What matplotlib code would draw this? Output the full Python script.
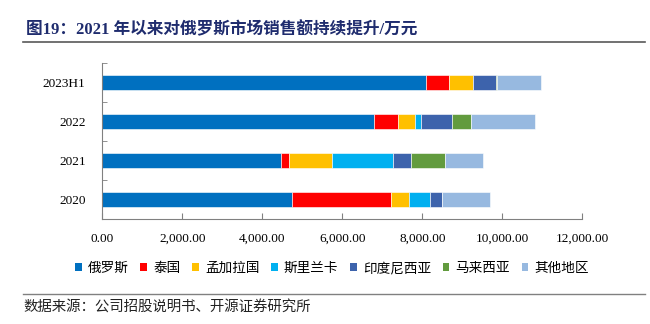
import matplotlib
matplotlib.use("Agg")
import matplotlib.pyplot as plt
from matplotlib.lines import Line2D
from matplotlib.patches import Patch
import numpy as np

plt.rcParams["font.family"] = ["Liberation Serif", "Noto Sans CJK SC"]

years = ["2020", "2021", "2022", "2023H1"]
regions = ["俄罗斯", "泰国", "孟加拉国", "斯里兰卡", "印度尼西亚", "马来西亚", "其他地区"]
russia = [4750, 4475, 6785, 8085]
thailand = [2468, 200, 608, 583]
bangladesh = [450, 1075, 425, 592]
srilanka = [525, 1510, 142, 0]
indonesia = [292, 465, 783, 583]
malaysia = [0, 843, 475, 25]
others = [1215, 950, 1600, 1100]
series = [russia, thailand, bangladesh, srilanka, indonesia, malaysia, others]
colors = ["#0070C0", "#FF0000", "#FFC000", "#00B0F0", "#3D63AC", "#629B3E", "#97B9E0"]
xticks = [0, 2000, 4000, 6000, 8000, 10000, 12000]

fig = plt.figure(figsize=(6.5, 3.24), dpi=100)
ax = fig.add_axes([0.1574, 0.324, 0.7385, 0.4815])

y = np.arange(len(years))
left = np.zeros(len(years))
for vals, c in zip(series, colors):
    ax.barh(y, vals, left=left, height=0.4, color=c, edgecolor="white", linewidth=0.4)
    left += np.array(vals)

ax.set_xlim(0, 12000)
ax.set_ylim(-0.5, len(years) - 0.5)
ax.set_yticks(y)
ax.set_yticklabels(years)
ax.set_yticks(np.arange(-0.5, len(years), 1.0), minor=True)
ax.set_xticks(xticks)
ax.set_xticklabels([f"{v:,.2f}" for v in xticks])
ax.tick_params(axis="y", which="major", length=0, pad=12, labelsize=9.5)
ax.tick_params(axis="y", which="minor", length=3.5, direction="in", color="#808080")
ax.tick_params(axis="x", length=4, direction="in", pad=10, labelsize=9.5, color="#808080")
for s in ["top", "right"]:
    ax.spines[s].set_visible(False)
for s in ["left", "bottom"]:
    ax.spines[s].set_color("#808080")
    ax.spines[s].set_linewidth(0.8)

handles = [Patch(facecolor=c, edgecolor="none") for c in colors]
fig.legend(handles, regions, loc="center", bbox_to_anchor=(332 / 650, 1 - 268 / 324),
           ncol=7, frameon=False, handlelength=0.5, handleheight=0.5,
           handletextpad=0.45, columnspacing=0.85,
           prop={"family": ["Noto Sans CJK SC"], "size": 9.8})

fig.text(26 / 650, 1 - 30 / 324, "图19：2021 年以来对俄罗斯市场销售额持续提升/万元",
         fontsize=12, fontweight="bold", color="#1F2C6E", va="center", ha="left")
fig.add_artist(Line2D([23 / 650, 645 / 650], [1 - 41.7 / 324] * 2, color="#595959", lw=1.2))
fig.add_artist(Line2D([23 / 650, 645 / 650], [1 - 294 / 324] * 2, color="#808080", lw=1.0))
fig.text(23 / 650, 1 - 307 / 324, "数据来源：公司招股说明书、开源证券研究所",
         fontsize=10.4, color="#222222", va="center", ha="left",
         family=["Noto Sans CJK SC"])

fig.savefig("out.png", dpi=100)
